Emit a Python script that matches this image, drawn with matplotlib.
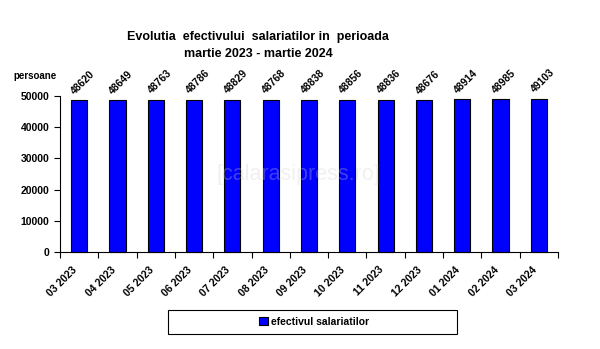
import matplotlib.pyplot as plt
from matplotlib.patches import Rectangle

plt.rcParams['font.family'] = ['Liberation Sans', 'DejaVu Sans']

luni = ['03 2023', '04 2023', '05 2023', '06 2023', '07 2023', '08 2023',
        '09 2023', '10 2023', '11 2023', '12 2023', '01 2024', '02 2024',
        '03 2024']
salariati = [48620, 48649, 48763, 48786, 48829, 48768, 48838, 48856,
             48836, 48676, 48914, 48985, 49103]
y_ticks = [0, 10000, 20000, 30000, 40000, 50000]

fig = plt.figure(figsize=(6, 3.49), dpi=100)
ax = fig.add_axes([0.1, 0.278, 0.83, 0.447])

x = range(len(luni))
bars = ax.bar(x, salariati, width=0.42, color='#0000ff', edgecolor='black',
              linewidth=0.8, label='efectivul salariatilor', clip_on=False)

for xi, v in zip(x, salariati):
    ax.text(xi + 0.1, v + 1300, str(v), rotation=45, ha='center',
            va='bottom', fontsize=7.5, fontweight='bold')

ax.set_xlim(-0.5, len(luni) - 0.5)
ax.set_ylim(0, 50000)
ax.set_yticks(y_ticks)
ax.set_yticklabels([str(t) for t in y_ticks], fontsize=7.5, fontweight='bold')
ax.set_xticks([i - 0.5 for i in range(len(luni) + 1)], minor=False)
ax.set_xticklabels([''] * (len(luni) + 1))
ax.set_xticks(list(x), minor=True)
ax.set_xticklabels(luni, minor=True, rotation=45, ha='right', va='top',
                   fontsize=7.5, fontweight='bold')
ax.tick_params(axis='x', which='minor', length=0, pad=9)
ax.tick_params(axis='x', which='major', length=4, direction='out')
ax.tick_params(axis='y', length=4, direction='out')

for s in ['top', 'right']:
    ax.spines[s].set_visible(False)

fig.text(0.43, 0.895, 'Evolutia  efectivului  salariatilor in  perioada',
         ha='center', va='center', fontsize=9, fontweight='bold')
fig.text(0.43, 0.845, 'martie 2023 - martie 2024',
         ha='center', va='center', fontsize=9, fontweight='bold')
fig.text(0.022, 0.782, 'persoane', ha='left', va='center', fontsize=7,
         fontweight='bold')
fig.text(0.497, 0.5, '[calarasipress.ro]', ha='center', va='center',
         fontsize=15.5, color='#d0d0d0', alpha=0.3, zorder=10)

fig.patches.append(Rectangle((168 / 600, 1 - 334 / 349), 289 / 600, 24 / 349,
                             transform=fig.transFigure, facecolor='white',
                             edgecolor='black', linewidth=0.8))
leg = fig.legend(handles=[bars], loc='center',
                 bbox_to_anchor=(314 / 600, 1 - 322 / 349), frameon=False,
                 prop={'size': 7.5, 'weight': 'bold'}, handlelength=0.8,
                 handleheight=0.8, handletextpad=0.3)

fig.savefig('out.png', dpi=100)
